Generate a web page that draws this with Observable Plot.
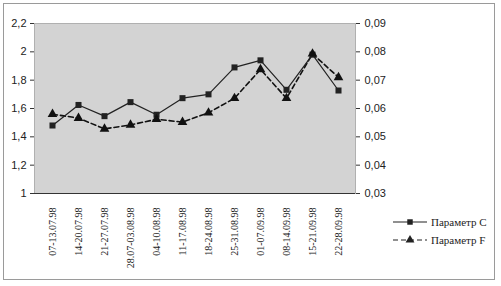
<!DOCTYPE html>
<html><head><meta charset="utf-8">
<script src="https://cdn.jsdelivr.net/npm/d3@7"></script>
<script src="https://cdn.jsdelivr.net/npm/@observablehq/plot@0.6"></script>
<style>
body{margin:0;background:#fff}
#wrap{position:relative;width:501px;height:286px;overflow:hidden}
#border{position:absolute;left:3px;top:3px;width:492px;height:277px;border:1px solid #9a9a9a;box-sizing:border-box}
#chart{position:absolute;left:0;top:0}
#legend{position:absolute;left:392px;top:213px;font-family:"Liberation Serif",serif;font-size:11px;color:#222}
</style></head><body>
<div id="wrap"><div id="border"></div><div id="chart"></div><div id="legend"></div></div>
<script>
const weeks = ["07-13.07.98","14-20.07.98","21-27.07.98","28.07-03.08.98","04-10.08.98","11-17.08.98","18-24.08.98","25-31.08.98","01-07.09.98","08-14.09.98","15-21.09.98","22-28.09.98"];
const paramC = [1.48,1.625,1.546,1.645,1.556,1.673,1.70,1.89,1.94,1.732,1.98,1.727];
const paramF = [0.058,0.0566,0.0528,0.0542,0.0562,0.0552,0.0585,0.0636,0.0738,0.0636,0.0793,0.071];
const leftTicks = [1,1.2,1.4,1.6,1.8,2,2.2];
const rightTicks = [0.03,0.04,0.05,0.06,0.07,0.08,0.09];
const seriesNames = ["Параметр C","Параметр F"];

const leftDomain = [1,2.2], rightDomain = [0.03,0.09];
const toLeft = d3.scaleLinear().domain(rightDomain).range(leftDomain);
const comma = v => String(v).replace(".", ",");

const rows = weeks.map((w,i) => ({week:w, C:paramC[i], F:toLeft(paramF[i])}));

const chart = Plot.plot({
  width:501, height:286,
  marginLeft:34, marginRight:146, marginTop:23, marginBottom:93,
  style:{fontFamily:"Liberation Sans, Arial, sans-serif", fontSize:"11px", color:"#222", background:"transparent"},
  x:{type:"point", domain:weeks, padding:0.5},
  y:{domain:leftDomain},
  marks:[
    Plot.frame({fill:"#d3d3d3", stroke:"#b0b0b0"}),
    Plot.axisY({ticks:leftTicks, tickFormat:d=>comma(+d.toFixed(1)), tickSize:4, tickPadding:4, line:true, stroke:"#333"}),
    Plot.axisY({anchor:"right", ticks:rightTicks.map(toLeft), tickFormat:d=>comma(toLeft.invert(d).toFixed(2)), tickSize:4, tickPadding:5, line:true, stroke:"#333"}),
    Plot.ruleY([leftDomain[0]], {stroke:"#333"}),
    Plot.axisX({tickRotate:-90, tickSize:0, tickPadding:14, fontFamily:"Liberation Serif, serif", fontSize:10, label:null}),
    Plot.line(rows, {x:"week", y:"F", stroke:"#111", strokeWidth:1.6, strokeDasharray:"5,3"}),
    Plot.line(rows, {x:"week", y:"C", stroke:"#222", strokeWidth:1.2}),
    Plot.dot(rows, {x:"week", y:"C", symbol:"square", r:3.4, fill:"#222", stroke:null}),
    Plot.dot(rows, {x:"week", y:"F", symbol:"triangle", r:3.6, fill:"#111", stroke:null})
  ]
});
document.getElementById("chart").appendChild(chart);

// legend
const lg = d3.select("#legend");
const items = [{name:seriesNames[0], dash:null, sym:d3.symbolSquare, size:30},
               {name:seriesNames[1], dash:"5,3", sym:d3.symbolTriangle, size:34}];
items.forEach(it => {
  const row = lg.append("div").style("display","flex").style("align-items","center").style("height","18px");
  const s = row.append("svg").attr("width",36).attr("height",12);
  s.append("line").attr("x1",1).attr("x2",35).attr("y1",6).attr("y2",6).attr("stroke","#222").attr("stroke-width",1.2).attr("stroke-dasharray",it.dash);
  s.append("path").attr("transform","translate(18,6)").attr("d",d3.symbol(it.sym,it.size)()).attr("fill","#222");
  row.append("span").style("margin-left","3px").text(it.name);
});
</script>
</body></html>
